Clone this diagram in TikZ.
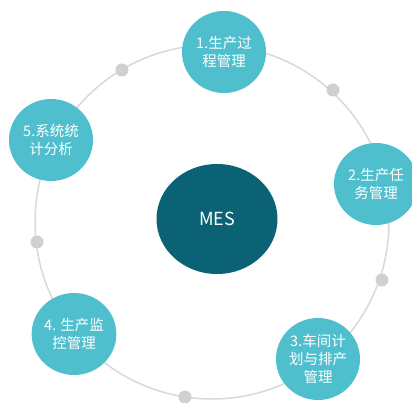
\documentclass[tikz,border=0pt]{standalone}
\usepackage{fontspec}
\setmainfont{Noto Sans CJK SC}
\definecolor{ringgray}{HTML}{D9D9D9}
\definecolor{dotgray}{HTML}{D0D0D0}
\definecolor{teal1}{HTML}{4FBFCE}
\definecolor{tealdark}{HTML}{0A6274}
\tikzset{
  item/.style={ellipse, fill=teal1, minimum width=84pt, minimum height=82pt, inner sep=0pt,
    text=white, font=\fontsize{14.5}{18}\selectfont, align=center},
  hub/.style={ellipse, fill=tealdark, minimum width=121pt, minimum height=110pt, inner sep=0pt,
    text=white, font=\fontsize{18}{20}\selectfont},
  ringdot/.style={circle, fill=dotgray, minimum size=13pt, inner sep=0pt},
  ringline/.style={draw=ringgray, line width=1.5pt}
}
\usetikzlibrary{shapes.geometric}
\begin{document}
\begin{tikzpicture}[x=1pt,y=-1pt]
\useasboundingbox (0,0) rectangle (412,403);
\fill[white] (0,0) rectangle (412,403);
\coordinate (c) at (212,222);
\draw[ringline] (c) circle[radius=177];
\node[ringdot] (d1) at (122,70) {};
\node[ringdot] (d2) at (333,90) {};
\node[ringdot] (d3) at (382,280) {};
\node[ringdot] (d4) at (185,397) {};
\node[ringdot] (d5) at (37,242) {};
\node[hub] (mes) at (217,219) {MES};
\node[item] (n1) at (224,52) {1.生产过\\程管理};
\node[item] (n2) at (376,184) {2.生产任\\务管理};
\node[item] (n3) at (318,359) {3.车间计\\划与排产\\管理};
\node[item] (n4) at (74,334) {4. 生产监\\控管理};
\node[item] (n5) at (51,140) {5.系统统\\计分析};
\end{tikzpicture}
\end{document}
